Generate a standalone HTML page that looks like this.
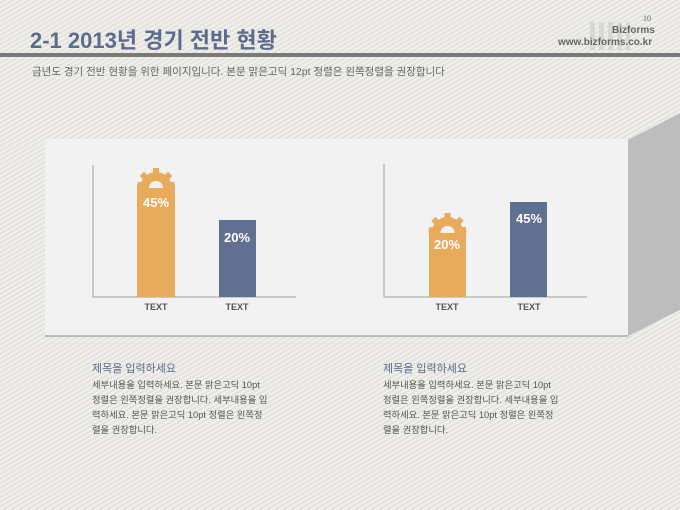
<!DOCTYPE html><html><head><meta charset="utf-8"><style>
body{margin:0;width:680px;height:510px;overflow:hidden;position:relative;font-family:"Liberation Sans","Noto Sans CJK KR",sans-serif;
background:#eceae5 repeating-linear-gradient(-30deg,#f1f0ec 0 2px,#e4e2dc 2px 4px);}
.a{position:absolute}
.t{left:30px;top:28px;font-size:22px;font-weight:bold;color:#5c6c8c;line-height:26px}
.sub{left:32px;top:64px;font-size:10.5px;color:#666}
.lbl{font-size:9px;font-weight:bold;color:#555;width:40px;text-align:center}
.pct{color:#fff;font-weight:bold;font-size:13px;width:38px;text-align:center}
.h{font-size:11px;color:#5c6c8c}
.b{font-size:9.3px;color:#555;line-height:15px;width:178px}
</style></head><body>
<div class="a t">2-1 2013년 경기 전반 현황</div>
<div class="a" style="left:0;top:53px;width:680px;height:4px;background:#7a7a7a"></div>
<div class="a" style="left:590px;top:22px;width:40px;height:28px;background:repeating-linear-gradient(90deg,#d0d0d0 0 5px,transparent 5px 9px);opacity:.7"></div>
<div class="a" style="left:643px;top:14px;font-size:8px;color:#666;font-family:'Liberation Serif',serif">10</div>
<div class="a" style="left:612px;top:25px;font-size:10px;font-weight:bold;color:#666">Bizforms</div>
<div class="a" style="left:558px;top:37px;font-size:10px;font-weight:bold;color:#666">www.bizforms.co.kr</div>
<div class="a sub">금년도 경기 전반 현황을 위한 페이지입니다. 본문 맑은고딕 12pt 정렬은 왼쪽정렬을 권장합니다</div>
<svg class="a" style="left:0;top:0" width="680" height="510">
<polygon points="628,140 680,113 680,310 628,336" fill="#bdbdbd"/>
<rect x="45" y="139" width="583" height="197" fill="#f2f2f2"/>
<line x1="45" y1="336" x2="628" y2="336" stroke="#aaa" stroke-width="1.5"/>
<g stroke="#bbb" stroke-width="1.5" fill="none">
<polyline points="93,165 93,297 296,297"/>
<polyline points="384,164 384,297 587,297"/>
</g>
<g fill="#e8ab5c">
<rect x="137" y="187" width="38" height="110"/>
<rect x="429" y="232" width="37" height="65"/>
</g>
<g fill="#616f91">
<rect x="219" y="220" width="37" height="77"/>
<rect x="510" y="202" width="37" height="95"/>
</g>
<g fill="#e8ab5c">
<g transform="translate(156,188)"><path d="M-16,0 A16,16 0 0 1 16,0 Z"/><rect x="-3" y="-20" width="6" height="6"/><rect x="-3" y="-20" width="6" height="6" transform="rotate(-45)"/><rect x="-3" y="-20" width="6" height="6" transform="rotate(45)"/><rect x="-3" y="-19" width="6" height="6" transform="rotate(-80)"/><rect x="-3" y="-19" width="6" height="6" transform="rotate(80)"/><path d="M-7,0 A7,7 0 0 1 7,0 Z" fill="#f2f2f2"/></g>
<g transform="translate(447.5,233)"><path d="M-16,0 A16,16 0 0 1 16,0 Z"/><rect x="-3" y="-20" width="6" height="6"/><rect x="-3" y="-20" width="6" height="6" transform="rotate(-45)"/><rect x="-3" y="-20" width="6" height="6" transform="rotate(45)"/><rect x="-3" y="-19" width="6" height="6" transform="rotate(-80)"/><rect x="-3" y="-19" width="6" height="6" transform="rotate(80)"/><path d="M-7,0 A7,7 0 0 1 7,0 Z" fill="#f2f2f2"/></g>
</g>
</svg>
<div class="a pct" style="left:137px;top:195px">45%</div>
<div class="a pct" style="left:218px;top:230px">20%</div>
<div class="a pct" style="left:428px;top:237px">20%</div>
<div class="a pct" style="left:510px;top:211px">45%</div>
<div class="a lbl" style="left:136px;top:302px">TEXT</div>
<div class="a lbl" style="left:217px;top:302px">TEXT</div>
<div class="a lbl" style="left:427px;top:302px">TEXT</div>
<div class="a lbl" style="left:509px;top:302px">TEXT</div>
<div class="a h" style="left:92px;top:360px">제목을 입력하세요</div>
<div class="a b" style="left:92px;top:378px">세부내용을 입력하세요. 본문 맑은고딕 10pt 정렬은 왼쪽정렬을 권장합니다. 세부내용을 입력하세요. 본문 맑은고딕 10pt 정렬은 왼쪽정렬을 권장합니다.</div>
<div class="a h" style="left:383px;top:360px">제목을 입력하세요</div>
<div class="a b" style="left:383px;top:378px">세부내용을 입력하세요. 본문 맑은고딕 10pt 정렬은 왼쪽정렬을 권장합니다. 세부내용을 입력하세요. 본문 맑은고딕 10pt 정렬은 왼쪽정렬을 권장합니다.</div>
</body></html>
